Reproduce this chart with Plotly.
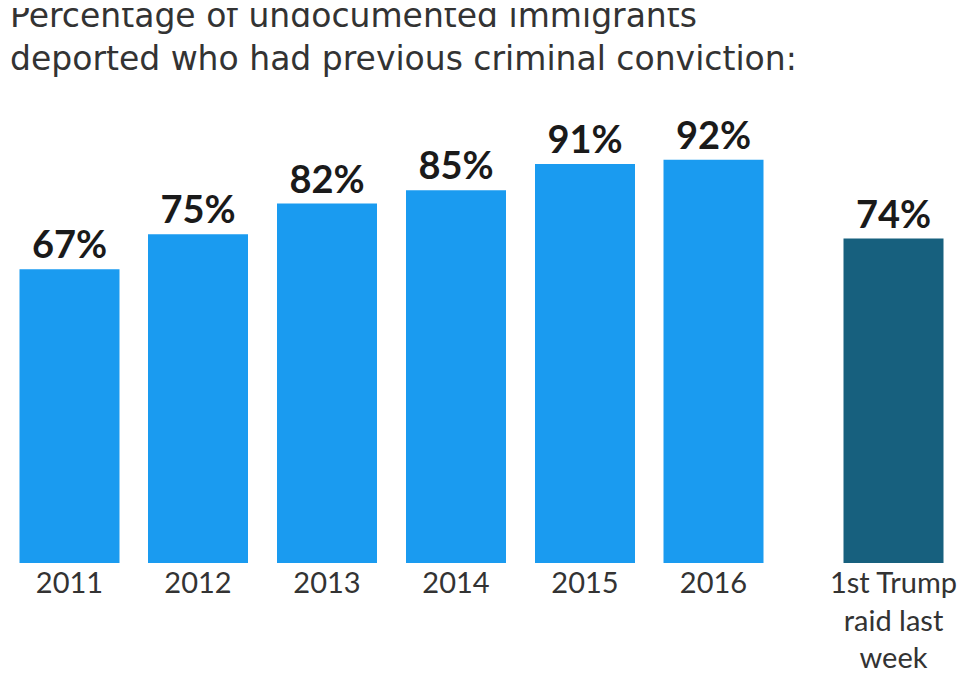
import plotly.graph_objects as go

# data
categories = ["2011", "2012", "2013", "2014", "2015", "2016", "1st Trump<br>raid last<br>week"]
values = [67, 75, 82, 85, 91, 92, 74]
colors = ["#1a9bf0"] * 6 + ["#17607e"]
x_pos = [69.5, 198, 327, 456, 585, 713.5, 893.5]

fig = go.Figure(go.Bar(
    x=x_pos, y=values, width=100,
    marker=dict(color=colors, line=dict(width=0)),
    text=[f"<b>{v}%</b>" for v in values],
    textposition="outside", cliponaxis=False,
    textfont=dict(family="Lato", size=38, color="#1a1a1a"),
))

fig.update_layout(
    width=980, height=683,
    margin=dict(l=0, r=0, t=0, b=128),
    plot_bgcolor="white", paper_bgcolor="white",
    showlegend=False,
    xaxis=dict(range=[8, 988], tickvals=x_pos, ticktext=categories,
               showgrid=False, zeroline=False, showline=False, ticks="",
               tickfont=dict(family="Lato", size=29, color="#333")),
    yaxis=dict(range=[0, 126.6], visible=False),
    annotations=[dict(
        text="Percentage of undocumented immigrants<br>deported who had previous criminal conviction:",
        x=0.0, y=1.0, xref="paper", yref="paper", yshift=14,
        xanchor="left", yanchor="top", align="left", showarrow=False,
        font=dict(family="DejaVu Sans", size=33, color="#333"))],
)

fig.write_html("out.html")
